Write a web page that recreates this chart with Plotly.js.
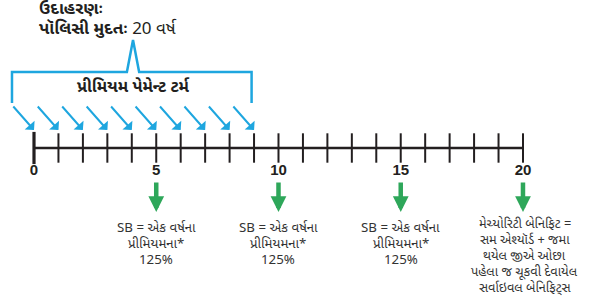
<!DOCTYPE html>
<html><head><meta charset="utf-8">
<script src="https://cdn.plot.ly/plotly-3.0.1.min.js"></script>
<style>body{margin:0;background:#fff}#c{width:593px;height:296px}</style>
</head><body><div id="c"></div>
<script>
// ---- data ----
const tickYears = [0,1,2,3,4,5,6,7,8,9,10,11,12,13,14,15,16,17,18,19,20];
const labelYears = [0,5,10,15,20];
const premiumYears = [0,1,2,3,4,5,6,7,8,9];
const benefitYears = [5,10,15,20];
const benefitLines = [
  ["SB = એક વર્ષના","પ્રીમિયમના*","125%"],
  ["SB = એક વર્ષના","પ્રીમિયમના*","125%"],
  ["SB = એક વર્ષના","પ્રીમિયમના*","125%"],
  ["મેચ્યોરિટી બેનિફિટ =","સમ એશ્યૉર્ડ + જમા","થયેલ જીએ ઓછા","પહેલા જ ચૂકવી દેવાયેલ","સર્વાઇવલ બેનિફિટ્સ"]
];
const titleLine1 = "ઉદાહરણઃ";
const titleLine2a = "પૉલિસી મુદતઃ";
const titleLine2b = "20 વર્ષ";
const bracketLabel = "પ્રીમિયમ પેમેન્ટ ટર્મ";

const BLUE = "#1ea6df", GREEN = "#2ea75a", DARK = "#231f20";
const GUJ = "'Noto Sans Gujarati','Lohit Gujarati','Noto Sans',sans-serif";
const AXY = 148;

const traces = [
  {x:[tickYears[0], tickYears[tickYears.length-1]], y:[AXY,AXY], mode:'lines',
   line:{color:DARK,width:2.5}, hoverinfo:'skip'},
  {x:tickYears, y:tickYears.map(()=>AXY), mode:'markers',
   marker:{symbol:'line-ns-open', size:21, color:DARK, line:{color:DARK,width:2}}, hoverinfo:'skip'},
  {x:[0], y:[AXY], mode:'markers',
   marker:{symbol:'line-ns-open', size:23, color:DARK, line:{color:DARK,width:3.2}}, hoverinfo:'skip'},
  {x:labelYears, y:labelYears.map(()=>171), mode:'text', text:labelYears.map(String),
   textfont:{family:"'Liberation Sans',Arial,sans-serif", size:15, color:DARK, weight:'bold'},
   hoverinfo:'skip'}
];

const ann = [];
premiumYears.forEach(yr => ann.push({x:yr, y:130, ax:yr-0.9, ay:105, xref:'x', yref:'y',
  axref:'x', ayref:'y', text:'', showarrow:true, arrowhead:1, arrowsize:1.1, arrowwidth:2,
  arrowcolor:BLUE, standoff:0}));
benefitYears.forEach((yr,i) => {
  ann.push({x:yr, y:212, ax:yr, ay:181, xref:'x', yref:'y', axref:'x', ayref:'y', text:'',
    showarrow:true, arrowhead:2, arrowsize:0.7, arrowwidth:4.5, arrowcolor:GREEN, standoff:0});
  const mat = i===3;
  benefitLines[i].forEach((ln,j) => ann.push({x:yr + (mat?0.08:0), y:(mat?224.5:228) + j*(mat?16.0:16.2),
    xref:'x', yref:'y', yanchor:'middle', xanchor:'center', text:ln, showarrow:false,
    font:{family:GUJ, size:mat?12.8:13.3, color:'#333'}}));
});
ann.push({x:0.062, xref:'paper', y:10, yref:'y', xanchor:'left', yanchor:'middle', showarrow:false,
  text:'<b>'+titleLine1+'</b>', font:{family:GUJ, size:17, color:DARK}});
ann.push({x:0.062, xref:'paper', y:29, yref:'y', xanchor:'left', yanchor:'middle', showarrow:false,
  text:'<b>'+titleLine2a+'</b> '+titleLine2b, font:{family:GUJ, size:17, color:DARK}});
ann.push({x:4.05, y:88, xref:'x', yref:'y', showarrow:false, text:'<b>'+bracketLabel+'</b>',
  font:{family:GUJ, size:16.5, color:DARK}});

const shapes = [{type:'path', xref:'x', yref:'y',
  path:'M -0.9,103 V 72 H 3.8 L 4.05,40 L 4.3,72 H 8.9 V 103',
  line:{color:BLUE, width:2.5}}];

const layout = {
  width:593, height:296, margin:{l:0,r:0,t:0,b:0}, paper_bgcolor:'#fff', plot_bgcolor:'#fff',
  showlegend:false,
  xaxis:{range:[-1.3906, 22.864], visible:false, fixedrange:true},
  yaxis:{range:[296,0], visible:false, fixedrange:true},
  annotations:ann, shapes:shapes
};
Plotly.newPlot('c', traces, layout, {staticPlot:true});
</script></body></html>
